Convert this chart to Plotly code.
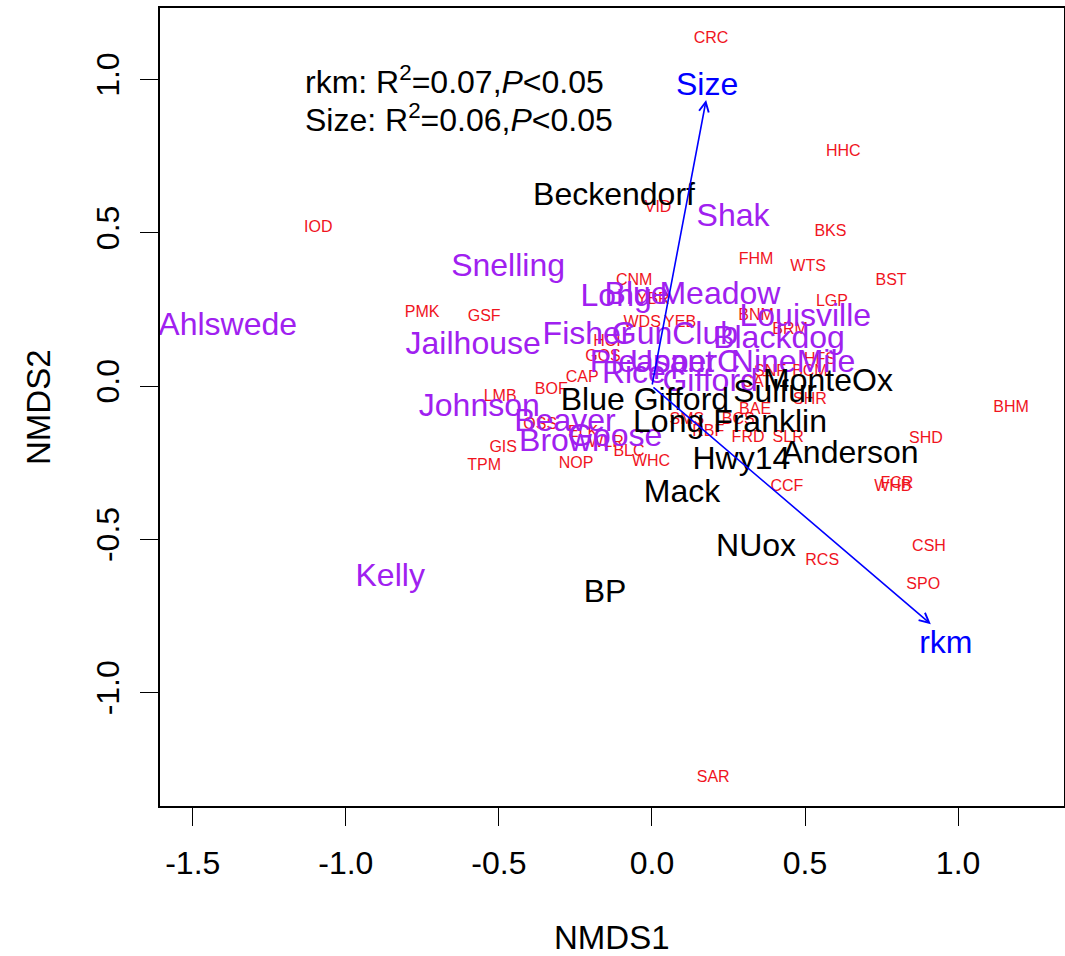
import plotly.graph_objects as go

# ---- data (NMDS site scores) ----
site_names = ["CRC", "HHC", "IOD", "VID", "BKS", "FHM", "WTS", "BST", "CNM", "LGP",
              "PMK", "GSF", "YBR", "BNM", "WDS", "YEB", "BRM", "HCI", "GOS", "CAP",
              "BOF", "LMB", "OSS", "GIS", "TPM", "NOP", "WHC", "BLC", "ELK", "WLR",
              "SMS", "BCS", "RBF", "FRD", "SLR", "BAE", "CAT", "SNF", "BCM", "HFS",
              "SHR", "SHD", "BHM", "CCF", "FCR", "WHB", "CSH", "RCS", "SPO", "SAR"]
site_x = [0.193, 0.625, -1.090, 0.020, 0.583, 0.340, 0.510, 0.781, -0.058, 0.588,
          -0.751, -0.548, 0.004, 0.340, -0.032, 0.092, 0.451, -0.147, -0.160, -0.228,
          -0.329, -0.496, -0.365, -0.486, -0.548, -0.248, -0.003, -0.075, -0.225, -0.150,
          0.114, 0.282, 0.184, 0.314, 0.445, 0.337, 0.343, 0.386, 0.516, 0.549,
          0.516, 0.895, 1.173, 0.441, 0.800, 0.787, 0.905, 0.556, 0.886, 0.200]
site_y = [1.132, 0.763, 0.515, 0.580, 0.502, 0.411, 0.388, 0.343, 0.343, 0.274,
          0.238, 0.225, 0.281, 0.228, 0.206, 0.206, 0.183, 0.144, 0.095, 0.026,
          -0.013, -0.036, -0.127, -0.202, -0.261, -0.254, -0.248, -0.215, -0.153, -0.186,
          -0.111, -0.111, -0.150, -0.170, -0.170, -0.078, 0.010, 0.046, 0.046, 0.085,
          -0.046, -0.173, -0.072, -0.330, -0.320, -0.330, -0.525, -0.571, -0.649, -1.279]

purple_names = ["Ahlswede", "Snelling", "Jailhouse", "Johnson", "Kelly", "Shak", "Long",
                "Blue", "Meadow", "Fisher", "GunClub", "Blackdog", "Louisville", "UpperC",
                "NineMile", "Pleasant", "Rice", "Gifford", "Beaver", "Brown", "Goose"]
purple_x = [-1.386, -0.470, -0.584, -0.564, -0.855, 0.265, -0.117,
            -0.050, 0.222, -0.212, 0.075, 0.415, 0.501, 0.108,
            0.461, 0.000, -0.059, 0.190, -0.284, -0.286, -0.120]
purple_y = [0.193, 0.385, 0.131, -0.072, -0.626, 0.548, 0.287,
            0.294, 0.294, 0.163, 0.163, 0.150, 0.222, 0.072,
            0.072, 0.072, 0.036, 0.010, -0.121, -0.186, -0.170]

black_names = ["Beckendorf", "MonteOx", "Sulfur", "Blue Gifford", "Long Franklin",
               "Hwy14", "Anderson", "Mack", "NUox", "BP"]
black_x = [-0.124, 0.575, 0.402, -0.023, 0.255, 0.292, 0.647, 0.098, 0.340, -0.153]
black_y = [0.617, 0.010, -0.026, -0.052, -0.124, -0.245, -0.225, -0.352, -0.529, -0.679]

# environmental vectors (envfit)
vec_names = ["Size", "rkm"]
vec_x = [0.177, 0.911]
vec_y = [0.933, -0.777]
vec_label_x = [0.180, 0.960]
vec_label_y = [0.976, -0.845]

stats_lines = ["rkm: R<sup>2</sup>=0.07,<i>P</i><0.05",
               "Size: R<sup>2</sup>=0.06,<i>P</i><0.05"]
stats_y = [0.998, 0.874]
stats_x = -1.139

x_ticks = [-1.5, -1.0, -0.5, 0.0, 0.5, 1.0]
y_ticks = [-1.0, -0.5, 0.0, 0.5, 1.0]

FONT = "Arial, Liberation Sans, sans-serif"
RED = "#F0141E"
PURPLE = "#A020F0"

fig = go.Figure()
fig.add_trace(go.Scatter(x=site_x, y=site_y, text=site_names, mode="text",
                         textposition="middle center",
                         textfont=dict(family=FONT, size=16, color=RED),
                         hoverinfo="text", showlegend=False))
fig.add_trace(go.Scatter(x=purple_x, y=purple_y, text=purple_names, mode="text",
                         textposition="middle center",
                         textfont=dict(family=FONT, size=32, color=PURPLE),
                         hoverinfo="text", showlegend=False))
fig.add_trace(go.Scatter(x=black_x, y=black_y, text=black_names, mode="text",
                         textposition="middle center",
                         textfont=dict(family=FONT, size=32, color="black"),
                         hoverinfo="text", showlegend=False))
fig.add_trace(go.Scatter(x=vec_label_x, y=vec_label_y, text=vec_names, mode="text",
                         textposition="middle center",
                         textfont=dict(family=FONT, size=32, color="#0000FF"),
                         hoverinfo="text", showlegend=False))

annotations = []
for vx, vy in zip(vec_x, vec_y):
    annotations.append(dict(x=vx, y=vy, ax=0, ay=0, xref="x", yref="y",
                            axref="x", ayref="y", text="", showarrow=True,
                            arrowhead=5, arrowsize=1.2, arrowwidth=1.6,
                            arrowcolor="#0000FF", standoff=0, startstandoff=0))
for line, sy in zip(stats_lines, stats_y):
    annotations.append(dict(x=stats_x, y=sy, xref="x", yref="y", text=line,
                            showarrow=False, xanchor="left", yanchor="middle",
                            font=dict(family=FONT, size=32, color="black")))
annotations.append(dict(x=0.5, y=0, xref="paper", yref="paper", text="NMDS1",
                        showarrow=False, xanchor="center", yanchor="middle",
                        yshift=-131, font=dict(family=FONT, size=33, color="black")))
annotations.append(dict(x=0, y=0.5, xref="paper", yref="paper", text="NMDS2",
                        showarrow=False, xanchor="center", yanchor="middle",
                        xshift=-122, textangle=-90,
                        font=dict(family=FONT, size=33, color="black")))

fig.update_layout(
    width=1065, height=956,
    margin=dict(l=160, r=1, t=8, b=150, autoexpand=False),
    paper_bgcolor="white", plot_bgcolor="white",
    annotations=annotations,
    showlegend=False,
)
axis_common = dict(showgrid=False, zeroline=False, showline=True, mirror=True,
                   linecolor="black", linewidth=1.6, ticks="outside", ticklen=18,
                   tickwidth=1.3, tickcolor="black", automargin=False,
                   tickfont=dict(family=FONT, size=32, color="black"))
fig.update_xaxes(range=[-1.607, 1.346], tickvals=x_ticks,
                 ticktext=[f"{v:.1f}" for v in x_ticks], ticklabelstandoff=10,
                 **axis_common)
fig.update_yaxes(range=[-1.370, 1.233], tickvals=y_ticks,
                 ticktext=[f"{v:.1f}" for v in y_ticks], tickangle=-90,
                 ticklabelstandoff=8, **axis_common)

fig.write_html("out.html",
               config={"displayModeBar": False},
               post_script="document.body.style.margin='0';"
                           "document.body.style.overflow='hidden';")
